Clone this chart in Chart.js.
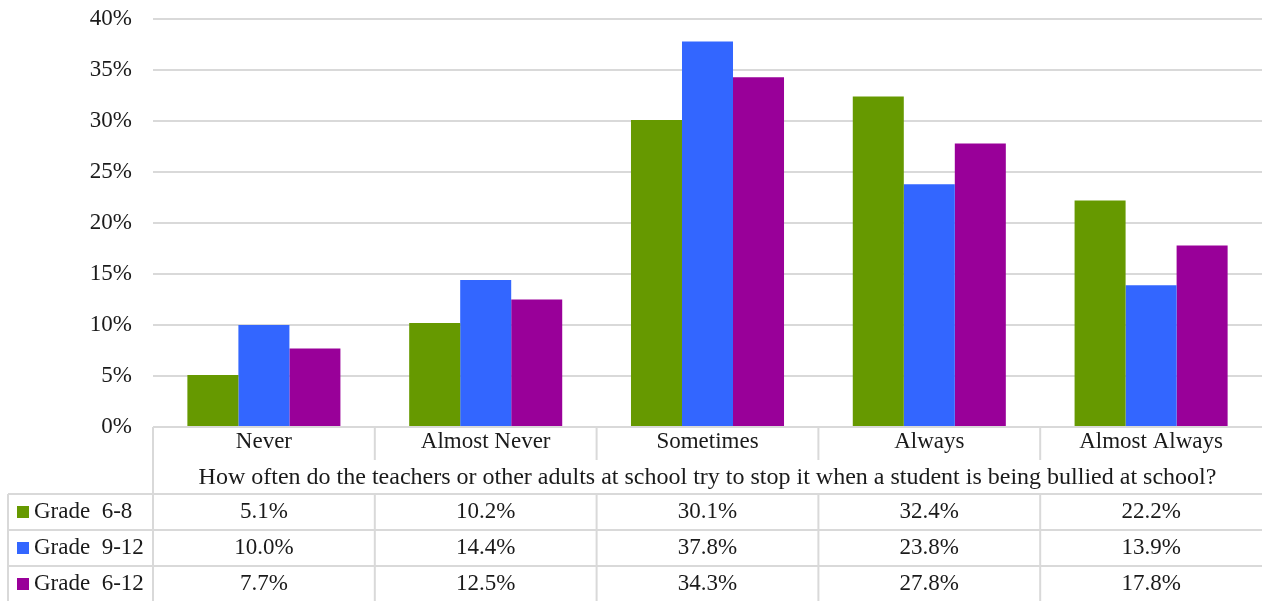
<!DOCTYPE html>
<html>
<head>
<meta charset="utf-8">
<script src="https://cdn.jsdelivr.net/npm/chart.js@4/dist/chart.umd.min.js"></script>
<style>
html,body{margin:0;padding:0;background:#fff;}
#wrap{width:1262px;height:601px;position:relative;}
</style>
</head>
<body>
<div id="wrap"><canvas id="c" width="1262" height="601"></canvas></div>
<script>
const categories = ["Never", "Almost Never", "Sometimes", "Always", "Almost Always"];
const seriesNames = ["Grade  6-8", "Grade  9-12", "Grade  6-12"];
const grade6to8 = [5.1, 10.2, 30.1, 32.4, 22.2];
const grade9to12 = [10.0, 14.4, 37.8, 23.8, 13.9];
const grade6to12 = [7.7, 12.5, 34.3, 27.8, 17.8];
const seriesColors = ["#669900", "#3366FF", "#990099"];
const xAxisTitle = "How often do the teachers or other adults at school try to stop it when a student is being bullied at school?";

const FONT = '"Liberation Serif", "Times New Roman", serif';
const FS = 23;
const LINE = "#d9d9d9";

const tablePlugin = {
  id: "dataTable",
  afterDraw(chart) {
    const ctx = chart.ctx;
    const x = chart.scales.x;
    const area = chart.chartArea;
    const n = categories.length;
    const catW = (area.right - area.left) / n;
    const top = area.bottom;
    const rowH = 36;
    const labelRowBottom = top + 33;
    const titleRowBottom = top + 67;
    const tableLeft = 8;
    const right = chart.width;
    ctx.save();
    ctx.strokeStyle = LINE;
    ctx.lineWidth = 2;
    ctx.beginPath();
    ctx.moveTo(area.left, top); ctx.lineTo(right, top);
    ctx.stroke();
    ctx.beginPath();
    ctx.moveTo(area.left, top); ctx.lineTo(area.left, chart.height);
    ctx.stroke();
    for (let i = 1; i < n; i++) {
      const bx = area.left + i * catW;
      ctx.beginPath();
      ctx.moveTo(bx, top); ctx.lineTo(bx, labelRowBottom);
      ctx.stroke();
      ctx.beginPath();
      ctx.moveTo(bx, titleRowBottom); ctx.lineTo(bx, chart.height);
      ctx.stroke();
    }
    for (let r = 0; r < 3; r++) {
      const y = titleRowBottom + r * rowH;
      ctx.beginPath();
      ctx.moveTo(tableLeft, y); ctx.lineTo(right, y);
      ctx.stroke();
    }
    ctx.beginPath();
    ctx.moveTo(tableLeft, titleRowBottom); ctx.lineTo(tableLeft, chart.height);
    ctx.stroke();

    ctx.fillStyle = "#1a1a1a";
    ctx.font = FS + "px " + FONT;
    ctx.textAlign = "center";
    ctx.textBaseline = "middle";
    categories.forEach((c, i) => {
      ctx.fillText(c, x.getPixelForValue(i), top + 15);
    });
    ctx.font = (FS + 1) + "px " + FONT;
    ctx.fillText(xAxisTitle, (area.left + right) / 2, top + 51);
    ctx.font = FS + "px " + FONT;

    const rows = [grade6to8, grade9to12, grade6to12];
    rows.forEach((vals, r) => {
      const cy = titleRowBottom + r * rowH + 18;
      ctx.fillStyle = seriesColors[r];
      ctx.fillRect(17, cy - 6, 12, 12);
      ctx.fillStyle = "#1a1a1a";
      ctx.textAlign = "left";
      ctx.fillText(seriesNames[r], 34, cy);
      ctx.textAlign = "center";
      vals.forEach((v, i) => {
        ctx.fillText(v.toFixed(1) + "%", x.getPixelForValue(i), cy);
      });
    });
    ctx.restore();
  }
};

new Chart(document.getElementById("c"), {
  type: "bar",
  data: {
    labels: categories,
    datasets: [
      { label: seriesNames[0], data: grade6to8, backgroundColor: seriesColors[0] },
      { label: seriesNames[1], data: grade9to12, backgroundColor: seriesColors[1] },
      { label: seriesNames[2], data: grade6to12, backgroundColor: seriesColors[2] }
    ]
  },
  options: {
    responsive: false,
    animation: false,
    layout: { padding: { top: 19, right: 0, left: 0, bottom: 0 } },
    plugins: { legend: { display: false }, tooltip: { enabled: false } },
    datasets: { bar: { barPercentage: 1.0, categoryPercentage: 0.69 } },
    scales: {
      x: {
        ticks: { display: false },
        grid: { display: false },
        border: { display: false },
        afterFit(axis) { axis.height = 174; axis.paddingLeft = 0; axis.paddingRight = 0; }
      },
      y: {
        min: 0, max: 40,
        ticks: {
          stepSize: 5,
          color: "#1a1a1a",
          font: { family: FONT, size: FS },
          padding: 21,
          callback: v => v + "%"
        },
        grid: { color: LINE, lineWidth: 2, drawTicks: false },
        border: { display: false },
        afterFit(axis) { axis.width = 153; axis.paddingTop = 0; axis.paddingBottom = 0; }
      }
    }
  },
  plugins: [tablePlugin]
});
</script>
</body>
</html>
